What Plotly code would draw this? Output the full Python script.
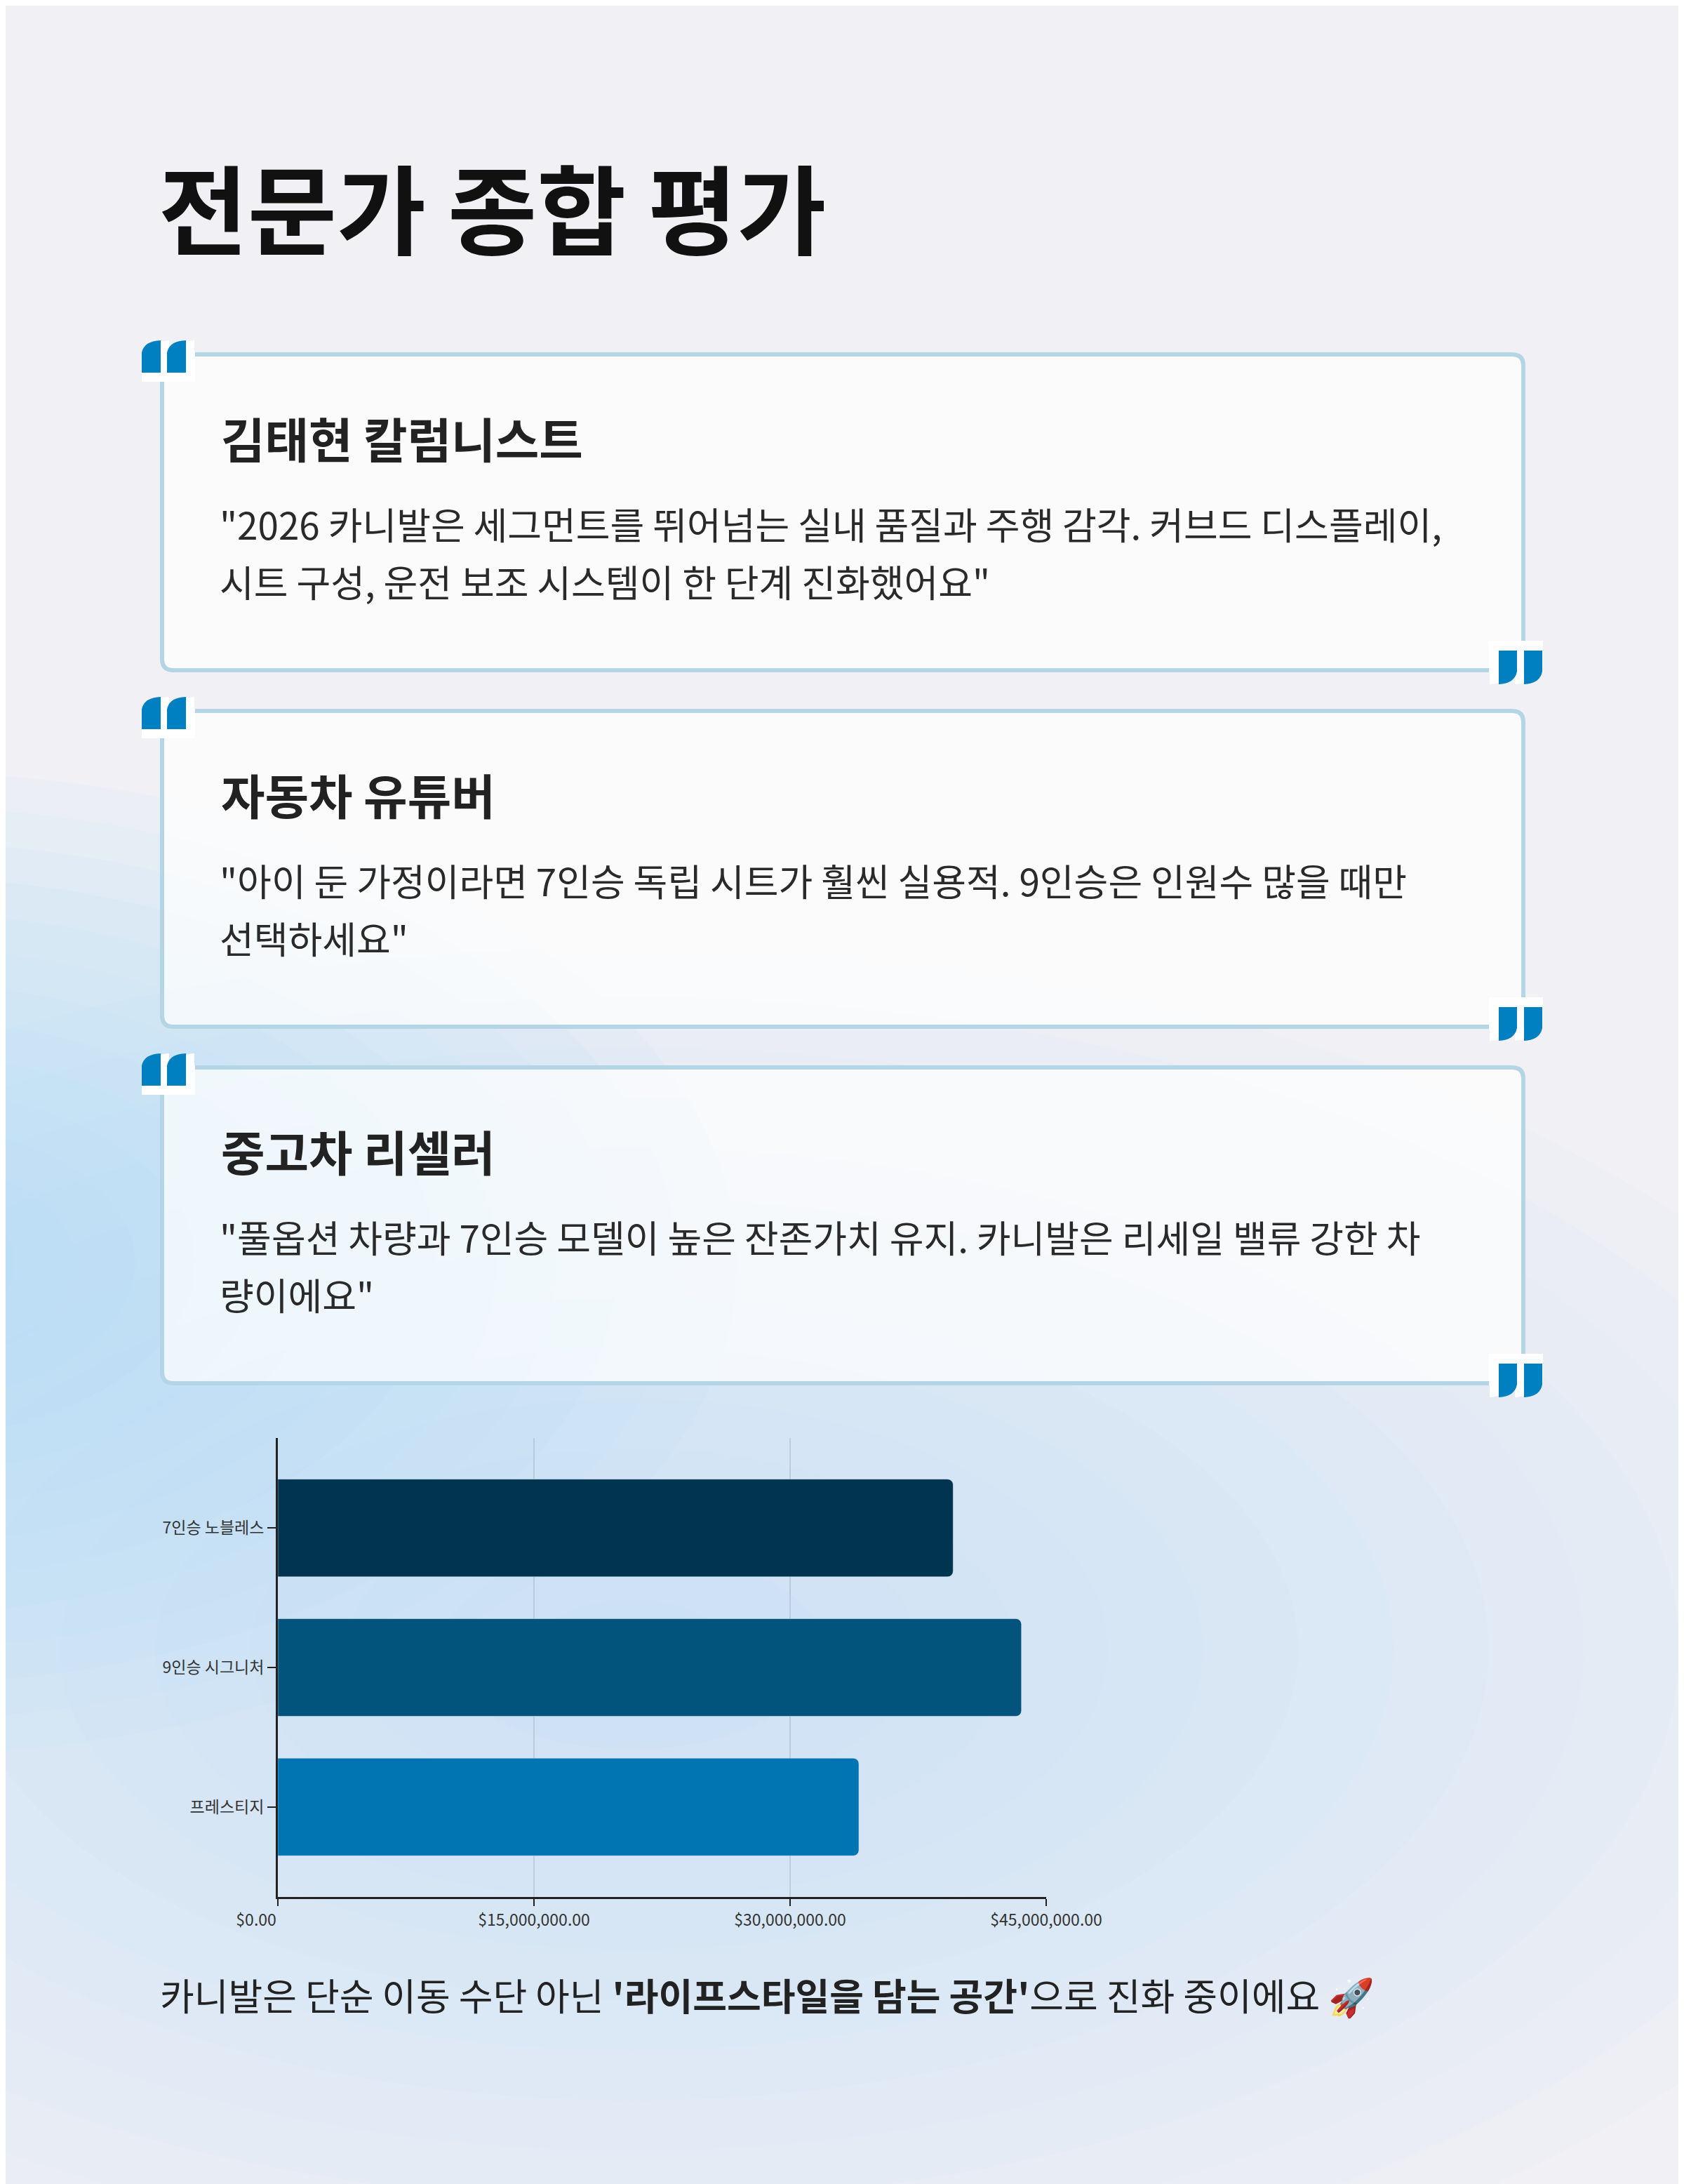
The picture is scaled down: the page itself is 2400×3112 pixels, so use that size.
import plotly.graph_objects as go

W, H = 2400, 3112
OFF = 8  # page body margin of the html file
FONT = "Noto Sans CJK KR"

# ---- data ----
title_text = "전문가 종합 평가"
names = ["김태현 칼럼니스트", "자동차 유튜버", "중고차 리셀러"]
quote_lines = [
    ['"2026 카니발은 세그먼트를 뛰어넘는 실내 품질과 주행 감각. 커브드 디스플레이,',
     '시트 구성, 운전 보조 시스템이 한 단계 진화했어요"'],
    ['"아이 둔 가정이라면 7인승 독립 시트가 훨씬 실용적. 9인승은 인원수 많을 때만',
     '선택하세요"'],
    ['"풀옵션 차량과 7인승 모델이 높은 잔존가치 유지. 카니발은 리세일 밸류 강한 차',
     '량이에요"'],
]
trims = ["7인승 노블레스", "9인승 시그니처", "프레스티지"]
prices = [39550000, 43550000, 34030000]
bar_colors = ["#00344F", "#02547D", "#0075B1"]
tick_vals = [0, 15000000, 30000000, 45000000]
footer = "카니발은 단순 이동 수단 아닌 <b>'라이프스타일을 담는 공간'</b>으로 진화 중이에요 🚀"


def px(x):
    return (x - OFF) / W


def py(y):
    return 1 - (y - OFF) / H


def rrect_path(x0, y0, x1, y1, r):
    p = [
        f"M {px(x0 + r)},{py(y0)}", f"L {px(x1 - r)},{py(y0)}",
        f"Q {px(x1)},{py(y0)} {px(x1)},{py(y0 + r)}", f"L {px(x1)},{py(y1 - r)}",
        f"Q {px(x1)},{py(y1)} {px(x1 - r)},{py(y1)}", f"L {px(x0 + r)},{py(y1)}",
        f"Q {px(x0)},{py(y1)} {px(x0)},{py(y1 - r)}", f"L {px(x0)},{py(y0 + r)}",
        f"Q {px(x0)},{py(y0)} {px(x0 + r)},{py(y0)}", "Z",
    ]
    return " ".join(p)


def open_mark(x, y, w, h):
    return (f"M {px(x)},{py(y + h)} L {px(x)},{py(y + 0.38 * h)} "
            f"Q {px(x + 0.12 * w)},{py(y + 0.02 * h)} {px(x + w)},{py(y)} "
            f"L {px(x + w)},{py(y + h)} Z")


def close_mark(x, y, w, h):
    return (f"M {px(x + w)},{py(y)} L {px(x + w)},{py(y + 0.62 * h)} "
            f"Q {px(x + 0.88 * w)},{py(y + 0.98 * h)} {px(x)},{py(y + h)} "
            f"L {px(x)},{py(y)} Z")


def paper_rect(x0, y0, x1, y1, color):
    return dict(type="rect", xref="paper", yref="paper", x0=px(x0), x1=px(x1),
                y0=py(y1), y1=py(y0), fillcolor=color, line_width=0, layer="below")


def glow(cx, cy, rx, ry, color, n, op):
    out = []
    for k in range(n):
        s = 1 - k / n
        out.append(dict(type="circle", xref="paper", yref="paper",
                        x0=px(cx - rx * s), x1=px(cx + rx * s),
                        y0=py(cy + ry * s), y1=py(cy - ry * s),
                        fillcolor=color, opacity=op, line_width=0, layer="below"))
    return out


shapes = []
# soft background glows
shapes += glow(900, 2350, 1900, 1000, "#C3E2F8", 14, 0.06)
shapes += glow(-150, 1800, 1200, 700, "#B3E0FA", 14, 0.09)

card_top0, card_step, card_h = 502, 508, 456
card_left, card_right = 228, 2174
annotations = []

for i in range(3):
    top = card_top0 + i * card_step
    bot = top + card_h
    # card
    shapes.append(dict(type="path", xref="paper", yref="paper",
                       path=rrect_path(card_left + 3, top + 3, card_right - 3, bot - 3, 16),
                       fillcolor="rgba(255,255,255,0.72)",
                       line=dict(color="#B4D5E6", width=6), layer="below"))
    # opening quote
    for mx in [202, 238]:
        shapes.append(dict(type="path", xref="paper", yref="paper",
                           path=open_mark(mx + 12, top - 17, 27, 46),
                           fillcolor="white", line_width=0, layer="below"))
    shapes.append(paper_rect(202, top, 278, top + 42, "white"))
    for mx in [202, 238]:
        shapes.append(dict(type="path", xref="paper", yref="paper",
                           path=open_mark(mx, top - 17, 27, 46),
                           fillcolor="#0080C0", line_width=0, layer="below"))
    # closing quote
    for mx in [2136, 2172]:
        shapes.append(dict(type="path", xref="paper", yref="paper",
                           path=close_mark(mx - 13, bot - 31, 26, 48),
                           fillcolor="white", line_width=0, layer="below"))
    shapes.append(paper_rect(2122, bot - 45, 2199, bot, "white"))
    for mx in [2136, 2172]:
        shapes.append(dict(type="path", xref="paper", yref="paper",
                           path=close_mark(mx, bot - 31, 26, 48),
                           fillcolor="#0080C0", line_width=0, layer="below"))

    # texts
    annotations.append(dict(xref="paper", yref="paper", x=px(313), y=py(top + 121),
                            xanchor="left", yanchor="middle", showarrow=False,
                            text=f"<b>{names[i]}</b>",
                            font=dict(family=FONT, size=68, color="#222222")))
    for j, line in enumerate(quote_lines[i]):
        annotations.append(dict(xref="paper", yref="paper", x=px(311),
                                y=py(top + 244 + j * 82),
                                xanchor="left", yanchor="middle", showarrow=False,
                                text=line,
                                font=dict(family=FONT, size=53, color="#2A2A2A")))

annotations.append(dict(xref="paper", yref="paper", x=px(224), y=py(292),
                        xanchor="left", yanchor="middle", showarrow=False,
                        text=f"<b>{title_text}</b>",
                        font=dict(family=FONT, size=138, color="#111111")))
annotations.append(dict(xref="paper", yref="paper", x=px(226), y=py(2842),
                        xanchor="left", yanchor="middle", showarrow=False,
                        text=footer,
                        font=dict(family=FONT, size=53, color="#222222")))

tick_text = [f"${v:,.2f}" for v in tick_vals]
tick_text[0] = tick_text[0] + "\u00a0" * 12

fig = go.Figure()
fig.add_trace(go.Bar(
    x=prices, y=trims, orientation="h", width=0.7,
    marker=dict(color=bar_colors, cornerradius=8),
    hovertemplate="%{y}: $%{x:,.0f}<extra></extra>",
))

fig.update_layout(
    width=W, height=H,
    margin=dict(l=0, r=0, t=0, b=0),
    paper_bgcolor="#F1F1F5",
    plot_bgcolor="rgba(0,0,0,0)",
    showlegend=False,
    shapes=shapes,
    annotations=annotations,
    xaxis=dict(
        domain=[px(396), px(1491)], range=[0, 45000000], automargin=False,
        tickvals=tick_vals, ticktext=tick_text,
        showgrid=True, gridcolor="rgba(0,0,0,0.1)", gridwidth=2,
        showline=True, linecolor="#222222", linewidth=3, zeroline=False,
        ticks="outside", ticklen=10, tickwidth=2, tickcolor="#222222",
        tickfont=dict(family=FONT, size=23, color="#333333"),
    ),
    yaxis=dict(
        domain=[py(2703), py(2049)], automargin=False,
        categoryorder="array", categoryarray=trims, range=[2.645, -0.645],
        showgrid=False, showline=True, linecolor="#222222", linewidth=3,
        ticks="outside", ticklen=12, tickwidth=2, tickcolor="#222222",
        tickfont=dict(family=FONT, size=23, color="#333333"),
    ),
)

fig.write_html("out.html")
